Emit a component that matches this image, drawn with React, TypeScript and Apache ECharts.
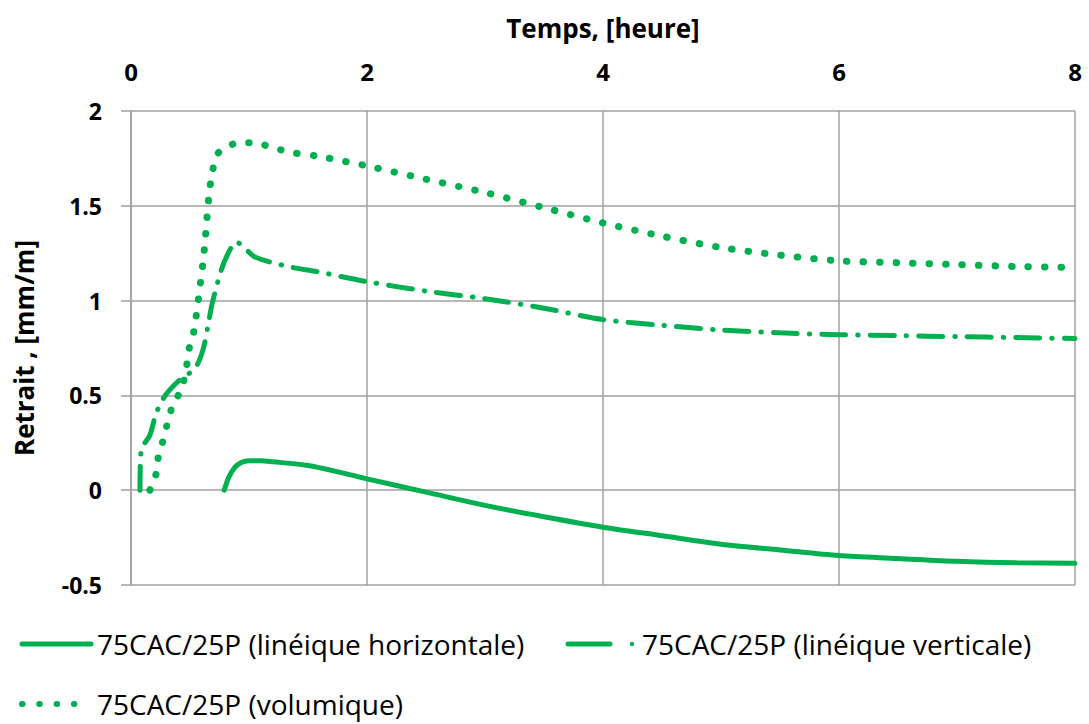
import React, { useEffect, useRef } from "react";
import * as echarts from "echarts";

const xTicks = [0, 2, 4, 6, 8];
const seriesNames = [
  "75CAC/25P (linéique horizontale)",
  "75CAC/25P (linéique verticale)",
  "75CAC/25P (volumique)",
];

const horizX = [0.79, 0.83, 0.88, 0.93, 1.0, 1.1, 1.2, 1.5, 1.8, 2.0, 2.5, 3.0, 3.5, 4.0, 4.5, 5.0, 5.5, 6.0, 6.5, 7.0, 7.5, 8.0];
const horizY = [0, 0.07, 0.12, 0.145, 0.155, 0.155, 0.15, 0.13, 0.09, 0.06, -0.01, -0.08, -0.14, -0.195, -0.24, -0.285, -0.315, -0.345, -0.36, -0.375, -0.383, -0.385];

const vertX = [0.076, 0.085, 0.16, 0.21, 0.27, 0.33, 0.41, 0.5, 0.56, 0.61, 0.65, 0.69, 0.77, 0.84, 0.89, 0.96, 1.05, 1.33, 1.6, 2.0, 2.5, 3.0, 3.5, 4.0, 4.5, 5.0, 5.5, 6.0, 6.5, 7.0, 7.5, 8.0];
const vertY = [0, 0.21, 0.29, 0.4, 0.48, 0.53, 0.58, 0.62, 0.66, 0.74, 0.86, 0.99, 1.17, 1.27, 1.31, 1.28, 1.23, 1.18, 1.15, 1.1, 1.05, 1.01, 0.96, 0.9, 0.87, 0.845, 0.83, 0.82, 0.815, 0.81, 0.805, 0.8];

const volX = [0.16, 0.21, 0.23, 0.27, 0.32, 0.36, 0.4, 0.44, 0.47, 0.49, 0.53, 0.55, 0.57, 0.59, 0.61, 0.63, 0.66, 0.69, 0.73, 0.8, 0.9, 1.0, 1.1, 1.24, 1.37, 1.6, 2.0, 2.5, 3.0, 3.5, 4.0, 4.5, 5.0, 5.5, 6.0, 6.5, 7.0, 7.5, 8.0];
const volY = [0, 0.08, 0.17, 0.26, 0.38, 0.46, 0.5, 0.56, 0.65, 0.74, 0.83, 0.91, 1.0, 1.1, 1.2, 1.33, 1.55, 1.68, 1.77, 1.81, 1.83, 1.833, 1.825, 1.8, 1.78, 1.76, 1.71, 1.64, 1.57, 1.49, 1.41, 1.34, 1.28, 1.24, 1.21, 1.2, 1.19, 1.18, 1.175];

const green = "#00b050";
const font = "Open Sans";

const zip = (xs: number[], ys: number[]) => xs.map((x, i) => [x, ys[i]]);

const dashDot = [24, 12, 0.5, 12];
const dotted = [0.5, 16];

export default function App() {
  const ref = useRef<HTMLDivElement>(null);
  useEffect(() => {
    const chart = echarts.init(ref.current!, undefined, { renderer: "svg" });
    const legendText = (x: number, y: number, text: string) => ({
      type: "text",
      x,
      y,
      style: { text, fill: "#000", font: `28px '${font}'`, textVerticalAlign: "middle", textAlign: "left" },
    });
    chart.setOption({
      animation: false,
      backgroundColor: "#ffffff",
      textStyle: { fontFamily: font },
      grid: { left: 131, right: 14, top: 111, bottom: 139, containLabel: false, outerBoundsMode: "none" },
      xAxis: {
        type: "value",
        position: "top",
        min: xTicks[0],
        max: xTicks[xTicks.length - 1],
        interval: 2,
        name: "Temps, [heure]",
        nameLocation: "middle",
        nameGap: 70,
        nameTextStyle: { fontSize: 26, fontWeight: "bold", color: "#000", fontFamily: font },
        axisLine: { show: false },
        axisTick: { show: false },
        axisLabel: { fontSize: 24, fontWeight: "bold", color: "#000", margin: 28, fontFamily: font },
        splitLine: { show: true, lineStyle: { color: "#a0a0a0", width: 1.5 } },
      },
      yAxis: {
        type: "value",
        min: -0.5,
        max: 2,
        interval: 0.5,
        name: "Retrait , [mm/m]",
        nameLocation: "middle",
        nameGap: 94,
        nameRotate: 90,
        nameTextStyle: { fontSize: 26, fontWeight: "bold", color: "#000", fontFamily: font },
        axisLine: { show: true, lineStyle: { color: "#a0a0a0", width: 1.5 } },
        axisTick: { show: true, length: 10, inside: false, lineStyle: { color: "#a0a0a0", width: 1.5 } },
        axisLabel: { fontSize: 23, fontWeight: "bold", color: "#000", margin: 29, fontFamily: font },
        splitLine: { show: true, lineStyle: { color: "#a0a0a0", width: 1.5 } },
      },
      graphic: [
        { type: "line", shape: { x1: 22, y1: 644, x2: 91, y2: 644 }, style: { stroke: green, lineWidth: 5, lineCap: "round" } },
        legendText(97, 644, seriesNames[0]),
        { type: "line", shape: { x1: 568, y1: 644, x2: 610, y2: 644 }, style: { stroke: green, lineWidth: 5, lineCap: "round" } },
        { type: "circle", shape: { cx: 632, cy: 644, r: 2.2 }, style: { fill: green } },
        legendText(642, 644, seriesNames[1]),
        { type: "line", shape: { x1: 22, y1: 704, x2: 90, y2: 704 }, style: { stroke: green, lineWidth: 6, lineCap: "round", lineDash: [0.5, 16.8] } },
        legendText(97, 704, seriesNames[2]),
      ],
      series: [
        {
          name: seriesNames[0],
          type: "line",
          data: zip(horizX, horizY),
          smooth: 0.3,
          showSymbol: false,
          symbol: "none",
          itemStyle: { color: green },
          lineStyle: { color: green, width: 5, cap: "round" },
        },
        {
          name: seriesNames[1],
          type: "line",
          data: zip(vertX, vertY),
          smooth: 0.3,
          showSymbol: false,
          symbol: "none",
          itemStyle: { color: green },
          lineStyle: { color: green, width: 5, cap: "round", type: dashDot },
        },
        {
          name: seriesNames[2],
          type: "line",
          data: zip(volX, volY),
          smooth: 0.3,
          showSymbol: false,
          symbol: "none",
          itemStyle: { color: green },
          lineStyle: { color: green, width: 7, cap: "round", type: dotted },
        },
      ],
    });
    return () => chart.dispose();
  }, []);
  return (
    <div
      ref={ref}
      style={{ position: "fixed", left: 0, top: 0, width: 1089, height: 724 }}
    />
  );
}
